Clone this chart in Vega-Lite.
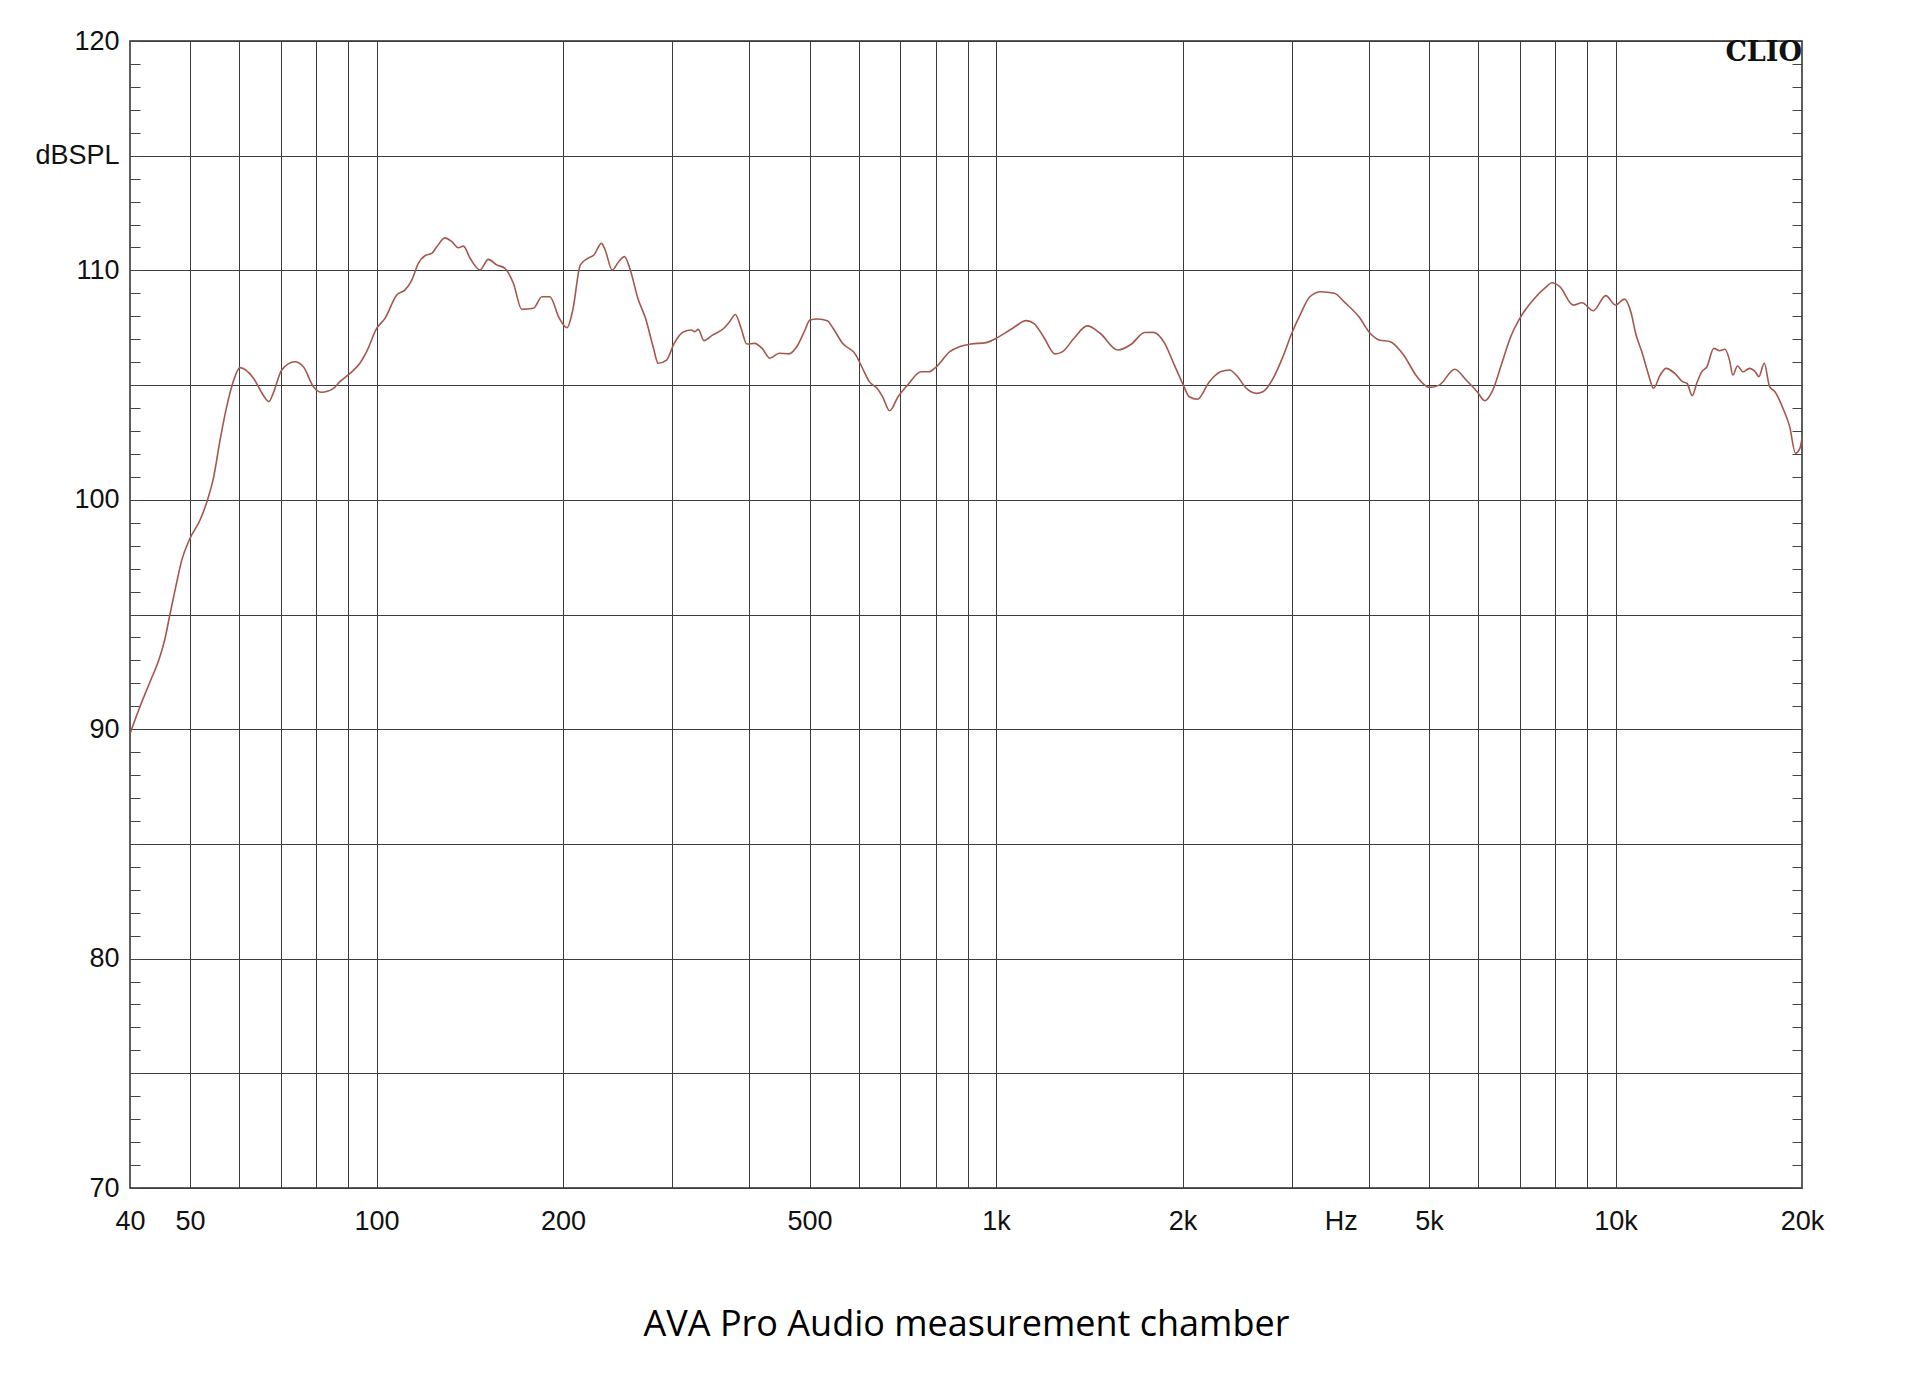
{
  "$schema": "https://vega.github.io/schema/vega-lite/v6.json",
  "width": 1672,
  "height": 1147,
  "autosize": {"type": "none"},
  "padding": {"left": 130, "top": 41, "right": 118, "bottom": 188},
  "background": "white",
  "config": {
    "view": {"stroke": "#2a2a2a", "strokeWidth": 1.5},
    "axis": {"labelFont": "Liberation Sans", "labelFontSize": 27, "labelColor": "#111111"}
  },
  "resolve": {"axis": {"y": "independent"}},
  "layer": [
    {
      "data": {"values": [
        {"f":40,"db":89.8},{"f":41.5,"db":90.98},{"f":43.1,"db":92.07},{"f":44.7,"db":93.16},{"f":45.5,"db":93.89},
        {"f":46.4,"db":95.0},{"f":47.3,"db":96.07},{"f":48.5,"db":97.38},{"f":50,"db":98.32},{"f":51.9,"db":99.12},
        {"f":53.5,"db":100.1},{"f":54.5,"db":100.9},{"f":55.9,"db":102.6},{"f":57.3,"db":104.06},{"f":58.7,"db":105.15},
        {"f":60.2,"db":105.76},{"f":63.3,"db":105.3},{"f":65.6,"db":104.57},{"f":67.0,"db":104.28},{"f":68.1,"db":104.64},
        {"f":70.3,"db":105.66},{"f":73.8,"db":106.02},{"f":76.2,"db":105.8},{"f":79.1,"db":104.93},{"f":81.5,"db":104.69},
        {"f":85.2,"db":104.86},{"f":87.3,"db":105.15},{"f":90.6,"db":105.51},{"f":94.0,"db":105.95},{"f":96.4,"db":106.46},
        {"f":100.1,"db":107.48},{"f":103.2,"db":107.91},{"f":107.8,"db":108.93},{"f":111.2,"db":109.15},{"f":114.0,"db":109.58},
        {"f":116.8,"db":110.31},{"f":119.7,"db":110.64},{"f":122.8,"db":110.74},{"f":125.1,"db":111.03},{"f":129.0,"db":111.42},
        {"f":132.3,"db":111.25},{"f":135.6,"db":110.99},{"f":138.1,"db":111.06},{"f":141.6,"db":110.53},{"f":146.9,"db":110.02},
        {"f":151.5,"db":110.48},{"f":156.3,"db":110.24},{"f":161.2,"db":110.09},{"f":166.3,"db":109.44},{"f":171.6,"db":108.3},
        {"f":179.1,"db":108.35},{"f":185.0,"db":108.85},{"f":190.4,"db":108.85},{"f":197.3,"db":107.91},{"f":203.0,"db":107.5},
        {"f":207.4,"db":108.27},{"f":213.3,"db":110.24},{"f":219.5,"db":110.53},{"f":224.3,"db":110.67},{"f":230.7,"db":111.18},
        {"f":233.9,"db":110.89},{"f":240.1,"db":110.02},{"f":246.0,"db":110.38},{"f":251.4,"db":110.6},{"f":256.8,"db":110.02},
        {"f":264.2,"db":108.78},{"f":271.8,"db":107.91},{"f":279.6,"db":106.67},{"f":284.9,"db":105.95},{"f":293.9,"db":106.09},
        {"f":302.3,"db":106.82},{"f":313.2,"db":107.33},{"f":322.3,"db":107.4},{"f":326.5,"db":107.33},{"f":330.6,"db":107.43},
        {"f":337.7,"db":106.94},{"f":348.5,"db":107.18},{"f":363.7,"db":107.48},{"f":371.5,"db":107.76},{"f":379.5,"db":108.08},
        {"f":387.7,"db":107.48},{"f":396.0,"db":106.79},{"f":407.4,"db":106.82},{"f":419.3,"db":106.6},{"f":431.4,"db":106.17},
        {"f":447.1,"db":106.39},{"f":463.2,"db":106.36},{"f":476.7,"db":106.67},{"f":490.3,"db":107.33},{"f":500.9,"db":107.84},
        {"f":515.3,"db":107.88},{"f":534.1,"db":107.81},{"f":545.7,"db":107.48},{"f":565.3,"db":106.82},{"f":594.2,"db":106.31},
        {"f":607.1,"db":105.8},{"f":624.5,"db":105.15},{"f":642.6,"db":104.86},{"f":656.2,"db":104.49},{"f":673.5,"db":103.88},
        {"f":694.8,"db":104.49},{"f":720.0,"db":105.0},{"f":756.8,"db":105.58},{"f":778.1,"db":105.58},{"f":801.3,"db":105.8},
        {"f":842.2,"db":106.46},{"f":872.4,"db":106.67},{"f":910.5,"db":106.79},{"f":963.9,"db":106.85},{"f":1005.6,"db":107.07},
        {"f":1064,"db":107.48},{"f":1119,"db":107.81},{"f":1151,"db":107.69},{"f":1193,"db":107.11},{"f":1245,"db":106.36},
        {"f":1281,"db":106.46},{"f":1336,"db":107.04},{"f":1404,"db":107.58},{"f":1472,"db":107.26},{"f":1573,"db":106.53},
        {"f":1653,"db":106.78},{"f":1737,"db":107.29},{"f":1796,"db":107.3},{"f":1872,"db":106.82},{"f":1935,"db":105.95},
        {"f":2000,"db":105.08},{"f":2051,"db":104.49},{"f":2114,"db":104.38},{"f":2210,"db":105.15},{"f":2303,"db":105.58},
        {"f":2382,"db":105.66},{"f":2441,"db":105.44},{"f":2545,"db":104.82},{"f":2631,"db":104.64},{"f":2696,"db":104.71},
        {"f":2811,"db":105.37},{"f":2905,"db":106.24},{"f":3002,"db":107.26},{"f":3105,"db":108.13},{"f":3210,"db":108.85},
        {"f":3346,"db":109.07},{"f":3517,"db":109.0},{"f":3666,"db":108.57},{"f":3853,"db":107.98},{"f":4017,"db":107.26},
        {"f":4151,"db":106.97},{"f":4330,"db":106.89},{"f":4549,"db":106.31},{"f":4780,"db":105.37},{"f":5008,"db":104.9},
        {"f":5194,"db":105.0},{"f":5503,"db":105.69},{"f":5739,"db":105.22},{"f":5981,"db":104.71},{"f":6153,"db":104.32},
        {"f":6340,"db":104.79},{"f":6553,"db":105.95},{"f":6774,"db":107.11},{"f":7062,"db":108.06},{"f":7361,"db":108.71},
        {"f":7736,"db":109.29},{"f":7893,"db":109.46},{"f":8128,"db":109.29},{"f":8543,"db":108.49},{"f":8831,"db":108.59},
        {"f":9206,"db":108.24},{"f":9645,"db":108.9},{"f":10001,"db":108.49},{"f":10341,"db":108.75},{"f":10601,"db":108.13},
        {"f":10776,"db":107.26},{"f":11047,"db":106.39},{"f":11289,"db":105.51},{"f":11518,"db":104.86},{"f":11808,"db":105.44},
        {"f":12066,"db":105.73},{"f":12513,"db":105.47},{"f":12826,"db":105.15},{"f":13043,"db":105.08},{"f":13303,"db":104.54},
        {"f":13524,"db":105.08},{"f":13776,"db":105.58},{"f":14047,"db":105.8},{"f":14406,"db":106.6},{"f":14722,"db":106.5},
        {"f":15018,"db":106.56},{"f":15276,"db":106.09},{"f":15469,"db":105.44},{"f":15735,"db":105.83},{"f":16054,"db":105.58},
        {"f":16460,"db":105.73},{"f":16808,"db":105.58},{"f":17037,"db":105.37},{"f":17383,"db":105.95},{"f":17730,"db":104.93},
        {"f":18086,"db":104.71},{"f":18634,"db":103.99},{"f":19105,"db":103.19},{"f":19522,"db":102.03},{"f":19850,"db":102.25},
        {"f":20000,"db":102.7}
      ]},
      "mark": {"type": "line", "color": "#a5574e", "strokeWidth": 1.6, "interpolate": "monotone", "clip": true},
      "encoding": {
        "x": {
          "field": "f", "type": "quantitative",
          "scale": {"type": "log", "domain": [40, 20000], "nice": false},
          "axis": {
            "values": [40,50,60,70,80,90,100,200,300,400,500,600,700,800,900,1000,2000,3000,3600,4000,5000,6000,7000,8000,9000,10000,20000],
            "labelExpr": "datum.value==40?'40':datum.value==50?'50':datum.value==100?'100':datum.value==200?'200':datum.value==500?'500':datum.value==1000?'1k':datum.value==2000?'2k':datum.value==3600?'Hz':datum.value==5000?'5k':datum.value==10000?'10k':datum.value==20000?'20k':''",
            "labelOverlap": false, "labelFlush": false, "labelBound": false,
            "labelPadding": 20,
            "ticks": false, "domain": false,
            "grid": true,
            "gridColor": {"condition": {"test": "datum.value==3600 || datum.value==40 || datum.value==20000", "value": "transparent"}, "value": "#3c3c3c"},
            "gridWidth": 1,
            "title": "AVA Pro Audio measurement chamber",
            "titleFont": "Open Sans", "titleFontSize": 36, "titleFontWeight": "normal", "titleColor": "#000000",
            "titlePadding": 73
          }
        },
        "y": {
          "field": "db", "type": "quantitative",
          "scale": {"domain": [70, 120], "nice": false, "zero": false},
          "axis": {
            "orient": "left",
            "values": [70,71,72,73,74,75,76,77,78,79,80,81,82,83,84,85,86,87,88,89,90,91,92,93,94,95,96,97,98,99,100,101,102,103,104,105,106,107,108,109,110,111,112,113,114,115,116,117,118,119,120],
            "labelExpr": "datum.value==115?'dBSPL':(datum.value%10==0?datum.label:'')",
            "labelOverlap": false, "labelFlush": false, "labelBound": false,
            "labelPadding": 21,
            "ticks": true, "tickSize": -10, "tickColor": "#444444", "tickWidth": 1,
            "domain": false,
            "grid": true,
            "gridColor": {"condition": {"test": "datum.value%5==0", "value": "#3c3c3c"}, "value": "transparent"},
            "gridWidth": 1,
            "title": null
          }
        }
      }
    },
    {
      "data": {"values": [{"f": 20000, "db": 120, "label": "CLIO"}]},
      "mark": {"type": "text", "font": "DejaVu Serif", "fontWeight": "bold", "fontSize": 27, "align": "right", "baseline": "top", "dy": -1, "color": "#111111"},
      "encoding": {
        "x": {"field": "f", "type": "quantitative", "scale": {"type": "log", "domain": [40, 20000], "nice": false}},
        "y": {
          "field": "db", "type": "quantitative",
          "scale": {"domain": [70, 120], "nice": false, "zero": false},
          "axis": {
            "orient": "right",
            "values": [70,71,72,73,74,75,76,77,78,79,80,81,82,83,84,85,86,87,88,89,90,91,92,93,94,95,96,97,98,99,100,101,102,103,104,105,106,107,108,109,110,111,112,113,114,115,116,117,118,119,120],
            "labels": false, "grid": false, "domain": false,
            "ticks": true, "tickSize": -10, "tickColor": "#444444", "tickWidth": 1,
            "title": null
          }
        },
        "text": {"field": "label"}
      }
    }
  ]
}
